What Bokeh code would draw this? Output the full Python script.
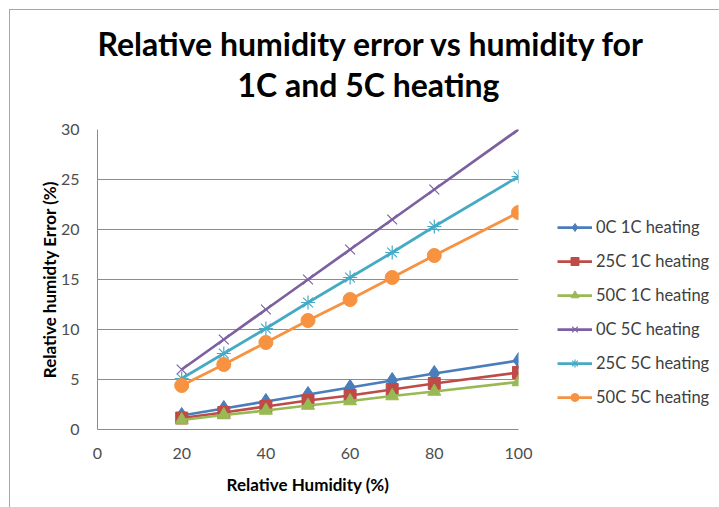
from bokeh.plotting import figure
from bokeh.models import Range1d, Legend, LegendItem, Title, FixedTicker
from bokeh.embed import file_html
from bokeh.resources import INLINE

humidity = [20, 30, 40, 50, 60, 70, 80, 100]
err_0c_1c = [1.4, 2.1, 2.8, 3.5, 4.2, 4.9, 5.6, 6.9]
err_25c_1c = [1.15, 1.7, 2.3, 2.9, 3.4, 4.0, 4.6, 5.7]
err_50c_1c = [0.95, 1.45, 1.9, 2.4, 2.85, 3.35, 3.8, 4.75]
err_0c_5c = [6.0, 9.0, 12.0, 15.0, 18.0, 21.0, 24.0, 30.0]
err_25c_5c = [5.1, 7.6, 10.1, 12.7, 15.2, 17.7, 20.3, 25.3]
err_50c_5c = [4.4, 6.5, 8.7, 10.9, 13.0, 15.2, 17.4, 21.7]
x_ticks = [0, 20, 40, 60, 80, 100]
y_ticks = [0, 5, 10, 15, 20, 25, 30]
title_lines = ["Relative humidity error vs humidity for", "1C and 5C heating"]

FONT = "Lato"

p = figure(frame_width=421, frame_height=300, output_backend="svg", toolbar_location=None,
           x_range=Range1d(0, 100), y_range=Range1d(0, 30),
           min_border_left=87, min_border_right=201, min_border_top=119, min_border_bottom=78)
p.styles = {"margin-left": "9px", "margin-top": "9px",
            "border-left": "1px solid #a6a6a6", "border-top": "1px solid #a6a6a6"}
p.outline_line_color = None
p.background_fill_color = "white"
p.border_fill_color = "white"

p.xgrid.grid_line_color = None
p.ygrid.grid_line_color = "#8c8c8c"
p.ygrid.grid_line_width = 1

p.xaxis.ticker = FixedTicker(ticks=x_ticks)
p.yaxis.ticker = FixedTicker(ticks=y_ticks)
for ax in (p.xaxis, p.yaxis):
    ax.axis_line_color = "#8c8c8c"
    ax.major_tick_line_color = None
    ax.minor_tick_line_color = None
    ax.major_label_text_font = FONT
    ax.major_label_text_font_size = "16px"
    ax.major_label_text_color = "#4d4d4d"
    ax.axis_label_text_font = FONT
    ax.axis_label_text_font_size = "17px"
    ax.axis_label_text_font_style = "bold"
    ax.axis_label_text_color = "black"
p.xaxis.axis_label = "Relative Humidity (%)"
p.yaxis.axis_label = "Relative humidty Error (%)"
p.xaxis.major_label_standoff = 12
p.yaxis.major_label_standoff = 12
p.xaxis.axis_label_standoff = 12
p.yaxis.axis_label_standoff = -2

series = [
    ("0C 1C heating", err_0c_1c, "#4a7ebb", "diamond", 16),
    ("25C 1C heating", err_25c_1c, "#be4b48", "square", 12),
    ("50C 1C heating", err_50c_1c, "#98b954", "triangle", 13),
    ("0C 5C heating", err_0c_5c, "#7d60a0", "x", 14),
    ("25C 5C heating", err_25c_5c, "#46aac5", "asterisk", 14),
    ("50C 5C heating", err_50c_5c, "#f69240", "circle", 14),
]

items = []
for name, ys, color, marker, size in series:
    ln = p.line(humidity, ys, line_color=color, line_width=2.75)
    lw = 1.2 if marker in ("x", "asterisk") else 1
    mk = p.scatter(humidity, ys, marker=marker, size=size, fill_color=color,
                   line_color=color, line_width=lw)
    items.append(LegendItem(label=name, renderers=[ln, mk]))

legend = Legend(items=items, location=(39, 22), orientation="vertical")
legend.border_line_color = None
legend.background_fill_alpha = 0
legend.margin = 0
legend.padding = 0
legend.spacing = 14
legend.glyph_width = 35
legend.glyph_height = 20
legend.label_height = 20
legend.label_standoff = 4
legend.label_text_font = FONT
legend.label_text_font_size = "16.5px"
legend.label_text_color = "#404040"
p.add_layout(legend, "right")

spacer = Title(text=" ", text_font_size="2px", standoff=22)
t2 = Title(text=title_lines[1], align="left", offset=140, standoff=0,
           text_font=FONT, text_font_size="32px", text_font_style="bold", text_color="black")
t1 = Title(text=title_lines[0], align="left", offset=0, standoff=0,
           text_font=FONT, text_font_size="32px", text_font_style="bold", text_color="black")
p.add_layout(spacer, "above")
p.add_layout(t2, "above")
p.add_layout(t1, "above")

open("out.html", "w").write(file_html(p, INLINE))
